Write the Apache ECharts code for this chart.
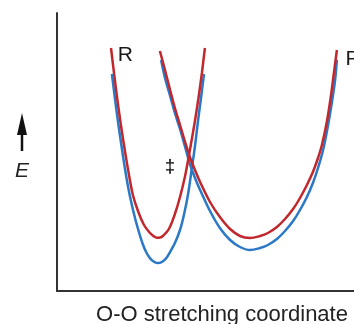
<!DOCTYPE html>
<html>
<head>
<meta charset="utf-8">
<script src="https://cdn.jsdelivr.net/npm/echarts@6/dist/echarts.min.js"></script>
<style>
  html, body { margin: 0; padding: 0; background: #fff; }
  #main { width: 354px; height: 324px; }
</style>
</head>
<body>
<div id="main"></div>
<script>
// curve points, [coordinate, E]
const reactantRed = [
  [18, 121.5], [19, 109], [20, 97], [21.3, 83], [22.7, 69.5], [24, 58], [25.3, 48],
  [27, 40], [29, 33], [31, 29], [32.3, 27.3], [33.3, 26.6], [34.3, 26.7], [35.3, 27.5],
  [37.3, 31], [39.3, 38.5], [41, 47], [42.7, 57.5], [44, 68], [45.3, 79], [46.3, 88],
  [47.3, 98], [48.3, 109], [49.3, 121.5]
];
const reactantBlue = [
  [18.3, 108.5], [19.3, 96.5], [20.3, 85], [21.7, 70.5], [23, 58], [24.3, 47.5], [26, 36.5],
  [27.7, 27.5], [28.7, 23], [29.7, 19.5], [30.7, 17], [31.7, 15.3], [32.7, 14.3], [33.7, 14],
  [34.7, 14.3], [35.7, 15.3], [36.7, 17], [37.7, 19.5], [39.3, 24], [41, 30.5], [42.3, 38],
  [43.7, 48.5], [45, 62], [46, 72.5], [47, 85], [48, 96.5], [49, 108.5]
];
const productRed = [
  [34.3, 120], [36, 110.5], [37.7, 100.5], [39.3, 91.5], [41, 83], [42.7, 74.5], [44.3, 67],
  [46, 60.5], [47.7, 54.5], [51, 44.5], [54.3, 37], [57.7, 31], [61, 27.5], [64.3, 26.5],
  [67.7, 27.5], [70.3, 29], [73.3, 32], [76, 36], [78.7, 41], [81, 46.5], [83.3, 53],
  [85.3, 59.5], [87, 66.5], [88.3, 73], [90, 85], [91.3, 97.5], [92.3, 109], [93.3, 120.5]
];
const productBlue = [
  [34.7, 115.5], [36, 106.5], [37.7, 97.5], [39.3, 89], [41, 81], [42.7, 72], [44.3, 63.5],
  [46, 56.5], [47.7, 50.5], [51, 40], [54.3, 31.5], [57.7, 25.5], [61, 22], [64.3, 20.5],
  [67.7, 21.5], [70.3, 23], [73.3, 26], [76, 30], [78.7, 35], [81, 40.5], [83.3, 47],
  [85.3, 54], [87, 61.5], [88.7, 70.5], [90.3, 82.5], [91.7, 95], [92.7, 105.5], [93.3, 115.5]
];

// text marks on the plot
const markNames = ['R', 'P', '‡'];
const markX = [22.8, 98.5, 37.7];
const markY = [117.8, 115.8, 62];
const markSizes = [21, 21, 18];

const RED = '#c1272d';
const BLUE = '#2a78c6';

const chart = echarts.init(document.getElementById('main'));

const curve = (name, data, color) => ({
  name: name,
  type: 'line',
  data: data,
  smooth: 0.35,
  showSymbol: false,
  silent: true,
  lineStyle: { color: color, width: 2.5 },
  z: color === RED ? 3 : 2
});

chart.setOption({
  animation: false,
  grid: { left: 57, right: 0, top: 13, bottom: 33, outerBoundsMode: 'none', containLabel: false },
  xAxis: {
    type: 'value',
    min: 0,
    max: 99,
    name: 'O-O stretching coordinate',
    nameLocation: 'middle',
    nameGap: 13,
    nameTextStyle: {
      fontFamily: 'Liberation Sans',
      fontSize: 22,
      color: '#222',
      padding: [0, 0, 0, 33]
    },
    axisLine: { show: true, lineStyle: { color: '#333', width: 2 } },
    axisTick: { show: false },
    axisLabel: { show: false },
    splitLine: { show: false }
  },
  yAxis: {
    type: 'value',
    min: 0,
    max: 139,
    axisLine: { show: true, lineStyle: { color: '#333', width: 2 } },
    axisTick: { show: false },
    axisLabel: { show: false },
    splitLine: { show: false }
  },
  series: [
    curve('R blue', reactantBlue, BLUE),
    curve('P blue', productBlue, BLUE),
    curve('R red', reactantRed, RED),
    curve('P red', productRed, RED),
    {
      type: 'scatter',
      silent: true,
      symbolSize: 1,
      itemStyle: { color: 'rgba(0,0,0,0)', opacity: 1 },
      data: markNames.map((n, i) => ({
        value: [markX[i], markY[i]],
        name: n,
        label: { fontSize: markSizes[i], fontWeight: i === 2 ? 'bold' : 'normal' }
      })),
      label: {
        show: true,
        position: 'inside',
        formatter: p => p.name,
        fontFamily: 'Liberation Sans',
        color: '#1a1a1a',
        textBorderWidth: 0
      },
      z: 5
    }
  ],
  // E axis arrow on the left
  graphic: [
    {
      type: 'polygon',
      shape: { points: [[17, 135], [27, 135], [22, 113]] },
      style: { fill: '#111' }
    },
    {
      type: 'line',
      shape: { x1: 22, y1: 133, x2: 22, y2: 151 },
      style: { stroke: '#111', lineWidth: 2.5 }
    },
    {
      type: 'text',
      x: 22,
      y: 171,
      style: {
        text: 'E',
        font: 'italic 21px "Liberation Sans"',
        fill: '#222',
        align: 'center',
        verticalAlign: 'middle'
      }
    }
  ]
});
</script>
</body>
</html>
